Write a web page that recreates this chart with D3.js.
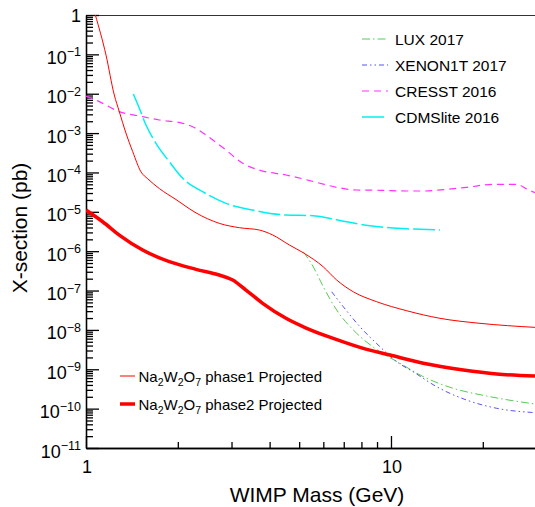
<!DOCTYPE html>
<html>
<head>
<meta charset="utf-8">
<script src="https://cdn.jsdelivr.net/npm/d3@7"></script>
<style>
  body { margin: 0; background: #fff; }
  svg { font-family: "Liberation Sans", Arial, Helvetica, sans-serif; }
  .axis path, .axis line { stroke: #000; stroke-width: 1.3; }
</style>
</head>
<body>
<div id="chart"></div>
<script>
// Data: [WIMP mass (GeV), cross-section (pb)]
const phase1 = [
  [1.073, 1], [1.163, 0.096], [1.238, 9.3e-3], [1.286, 3.5e-3], [1.352, 1.0e-3],
  [1.423, 3.37e-4], [1.514, 1.04e-4], [1.594, 6.9e-5], [1.74, 3.9e-5], [1.973, 2.05e-5],
  [2.295, 9.4e-6], [2.735, 5.1e-6], [3.183, 3.95e-6], [3.7, 3.45e-6], [4.094, 2.58e-6],
  [4.641, 1.44e-6], [5.196, 8.8e-7], [5.998, 4.0e-7], [6.637, 1.85e-7], [7.522, 9.3e-8],
  [8.978, 5.2e-8], [11.26, 3.07e-8], [14.48, 1.97e-8], [19.58, 1.47e-8], [29.66, 1.16e-8]
];
const phase2 = [
  [1, 1.11e-5], [1.134, 5.6e-6], [1.286, 2.57e-6], [1.534, 1.07e-6], [1.876, 5.4e-7],
  [2.295, 3.46e-7], [2.735, 2.48e-7], [3.027, 1.85e-7], [3.346, 1.03e-7], [3.796, 4.73e-8],
  [4.526, 1.97e-8], [5.291, 1.1e-8], [6.468, 6.1e-9], [8.116, 3.4e-9], [9.924, 2.3e-9],
  [12.76, 1.42e-9], [17.26, 9.6e-10], [22.22, 7.6e-10], [29.66, 6.7e-10]
];
const lux2017 = [
  [5.158, 9.7e-7], [5.562, 4.0e-7], [5.998, 1.25e-7], [6.637, 3.2e-8], [7.718, 8.2e-9],
  [9.203, 2.79e-9], [10.7, 1.42e-9], [12.76, 6.5e-10], [16.01, 3.28e-10], [20.6, 2.09e-10],
  [29.66, 1.31e-10]
];
const xenon1t2017 = [
  [6.391, 9.3e-8], [6.977, 3.88e-8], [7.913, 1.2e-8], [9.203, 3.74e-9], [10.44, 1.56e-9],
  [11.83, 8.6e-10], [14.12, 3.6e-10], [17.71, 1.65e-10], [22.22, 1.02e-10], [29.66, 7.9e-11]
];
const cresst2016 = [
  [1, 8.75e-3], [1.106, 6.3e-3], [1.286, 3.5e-3], [1.496, 2.72e-3], [1.74, 2.15e-3],
  [2.075, 1.77e-3], [2.238, 1.45e-3], [2.474, 8.9e-4], [2.877, 3.72e-4], [3.265, 1.71e-4],
  [3.7, 1.15e-4], [4.526, 8.6e-5], [4.907, 7.5e-5], [5.706, 5.6e-5], [6.637, 4.19e-5],
  [7.718, 3.58e-5], [9.203, 3.52e-5], [11.26, 3.38e-5], [12.76, 3.38e-5], [15.23, 3.73e-5],
  [17.71, 4.19e-5], [21.65, 5.0e-5], [25.83, 5.0e-5], [27.87, 3.8e-5], [29.66, 3.06e-5]
];
const cdmslite2016 = [
  [1.429, 9.8e-3], [1.496, 4.26e-3], [1.573, 1.6e-3], [1.696, 5.5e-4], [1.876, 1.87e-4],
  [2.075, 7.1e-5], [2.413, 3.24e-5], [2.877, 1.64e-5], [3.521, 1.11e-5], [4.526, 8.3e-6],
  [5.562, 8.0e-6], [6.31, 6.8e-6], [7.157, 5.6e-6], [8.533, 4.43e-6], [10.44, 3.81e-6],
  [12.45, 3.59e-6], [14.48, 3.45e-6]
];

const xMajorTicks = [1, 10];
const xMinorTicks = [2, 3, 4, 5, 6, 7, 8, 9, 20];
const xTickLabels = ["1", "10"];
const yExponents = [0, -1, -2, -3, -4, -5, -6, -7, -8, -9, -10, -11];

const W = 535, H = 507;
const plot = { left: 86, right: 536.5, top: 15, bottom: 448 };

const svg = d3.select("#chart").append("svg")
    .attr("width", W)
    .attr("height", H);

const x = d3.scaleLog().domain([1, 30]).range([plot.left, plot.right]);
const y = d3.scaleLog().domain([1e-11, 1]).range([plot.bottom, plot.top]);

svg.append("defs").append("clipPath")
    .attr("id", "clip")
  .append("rect")
    .attr("x", plot.left)
    .attr("y", plot.top)
    .attr("width", W - plot.left)
    .attr("height", plot.bottom - plot.top);

// top frame line
svg.append("line")
    .attr("x1", plot.left).attr("x2", W)
    .attr("y1", plot.top + 0.5).attr("y2", plot.top + 0.5)
    .attr("stroke", "#333")
    .attr("stroke-width", 1);

// y minor ticks: 2..9 in every decade
const yMinor = [];
yExponents.slice(1).forEach(e => {
  for (let k = 2; k <= 9; k++) yMinor.push(k * Math.pow(10, e));
});

svg.append("g")
    .attr("class", "axis")
    .attr("transform", `translate(${plot.left},0)`)
    .call(d3.axisLeft(y).tickValues(yMinor).tickSize(-7).tickSizeOuter(0).tickFormat(""));

svg.append("g")
    .attr("class", "axis")
    .attr("transform", `translate(${plot.left},0)`)
    .call(d3.axisLeft(y).tickValues(yExponents.map(e => Math.pow(10, e))).tickSize(-13).tickSizeOuter(0).tickFormat(""));

// x axis
svg.append("g")
    .attr("class", "axis")
    .attr("transform", `translate(0,${plot.bottom})`)
    .call(d3.axisBottom(x).tickValues(xMinorTicks).tickSize(-6).tickSizeOuter(0).tickFormat(""));

svg.append("g")
    .attr("class", "axis")
    .attr("transform", `translate(0,${plot.bottom})`)
    .call(d3.axisBottom(x).tickValues(xMajorTicks).tickSize(-12).tickSizeOuter(0).tickFormat(""));

// y tick labels with superscripts
yExponents.forEach(e => {
  const yy = y(Math.pow(10, e));
  if (e === 0) {
    svg.append("text")
        .attr("x", 81).attr("y", yy + 7)
        .attr("text-anchor", "end")
        .attr("font-size", 18)
        .text("1");
    return;
  }
  const t = svg.append("text")
      .attr("x", 81).attr("y", yy + 9.5)
      .attr("text-anchor", "end")
      .attr("font-size", 18);
  t.append("tspan").text("10");
  t.append("tspan")
      .attr("dy", -7.5)
      .attr("font-size", 12.5)
      .text("\u2212" + (-e));
});

// x tick labels
xMajorTicks.forEach((v, i) => {
  svg.append("text")
      .attr("x", x(v) + 1)
      .attr("y", 473)
      .attr("text-anchor", "middle")
      .attr("font-size", 18)
      .text(xTickLabels[i]);
});

// axis titles
svg.append("text")
    .attr("x", 317)
    .attr("y", 502)
    .attr("text-anchor", "middle")
    .attr("font-size", 21)
    .text("WIMP Mass (GeV)");

svg.append("text")
    .attr("transform", "translate(27,228) rotate(-90)")
    .attr("text-anchor", "middle")
    .attr("font-size", 21)
    .text("X-section (pb)");

// curves
const line = d3.line()
    .x(d => x(d[0]))
    .y(d => y(d[1]))
    .curve(d3.curveMonotoneX);

const series = [
  { data: cresst2016, color: "#ff33ff", width: 1.2, dash: "7,5" },
  { data: cdmslite2016, color: "#00f0f0", width: 1.5, dash: "22,4" },
  { data: lux2017, color: "#55cc55", width: 1, dash: "8,3,1.5,3" },
  { data: xenon1t2017, color: "#5555ee", width: 1, dash: "5,3,1.5,3,1.5,3" },
  { data: phase1, color: "#ff0000", width: 1, dash: null },
  { data: phase2, color: "#ff0000", width: 3.5, dash: null }
];

const curves = svg.append("g").attr("clip-path", "url(#clip)");
series.forEach(s => {
  curves.append("path")
      .datum(s.data)
      .attr("fill", "none")
      .attr("stroke", s.color)
      .attr("stroke-width", s.width)
      .attr("stroke-dasharray", s.dash)
      .attr("d", line);
});

// top-right legend
const legendTop = [
  { label: "LUX 2017", s: series[2] },
  { label: "XENON1T 2017", s: series[3] },
  { label: "CRESST 2016", s: series[0] },
  { label: "CDMSlite 2016", s: series[1] }
];
const legendRowsY = [39, 65, 91, 117];
legendTop.forEach((d, i) => {
  const ly = legendRowsY[i];
  svg.append("line")
      .attr("x1", 362).attr("x2", 388)
      .attr("y1", ly).attr("y2", ly)
      .attr("stroke", d.s.color)
      .attr("stroke-width", d.s.width)
      .attr("stroke-dasharray", d.s.dash);
  svg.append("text")
      .attr("x", 395).attr("y", ly + 5.5)
      .attr("font-size", 15.5)
      .text(d.label);
});

// bottom-left legend
const legendBottom = [
  { phase: "phase1", s: series[4], y: 376 },
  { phase: "phase2", s: series[5], y: 404 }
];
legendBottom.forEach(d => {
  svg.append("line")
      .attr("x1", 120).attr("x2", 135)
      .attr("y1", d.y).attr("y2", d.y)
      .attr("stroke", d.s.color)
      .attr("stroke-width", d.s.width);
  const t = svg.append("text")
      .attr("x", 138.5).attr("y", d.y + 5.5)
      .attr("font-size", 15);
  t.append("tspan").text("Na");
  t.append("tspan").attr("dy", 4).attr("font-size", 10.5).text("2");
  t.append("tspan").attr("dy", -4).text("W");
  t.append("tspan").attr("dy", 4).attr("font-size", 10.5).text("2");
  t.append("tspan").attr("dy", -4).text("O");
  t.append("tspan").attr("dy", 4).attr("font-size", 10.5).text("7");
  t.append("tspan").attr("dy", -4).text(" " + d.phase + " Projected");
});
</script>
</body>
</html>
